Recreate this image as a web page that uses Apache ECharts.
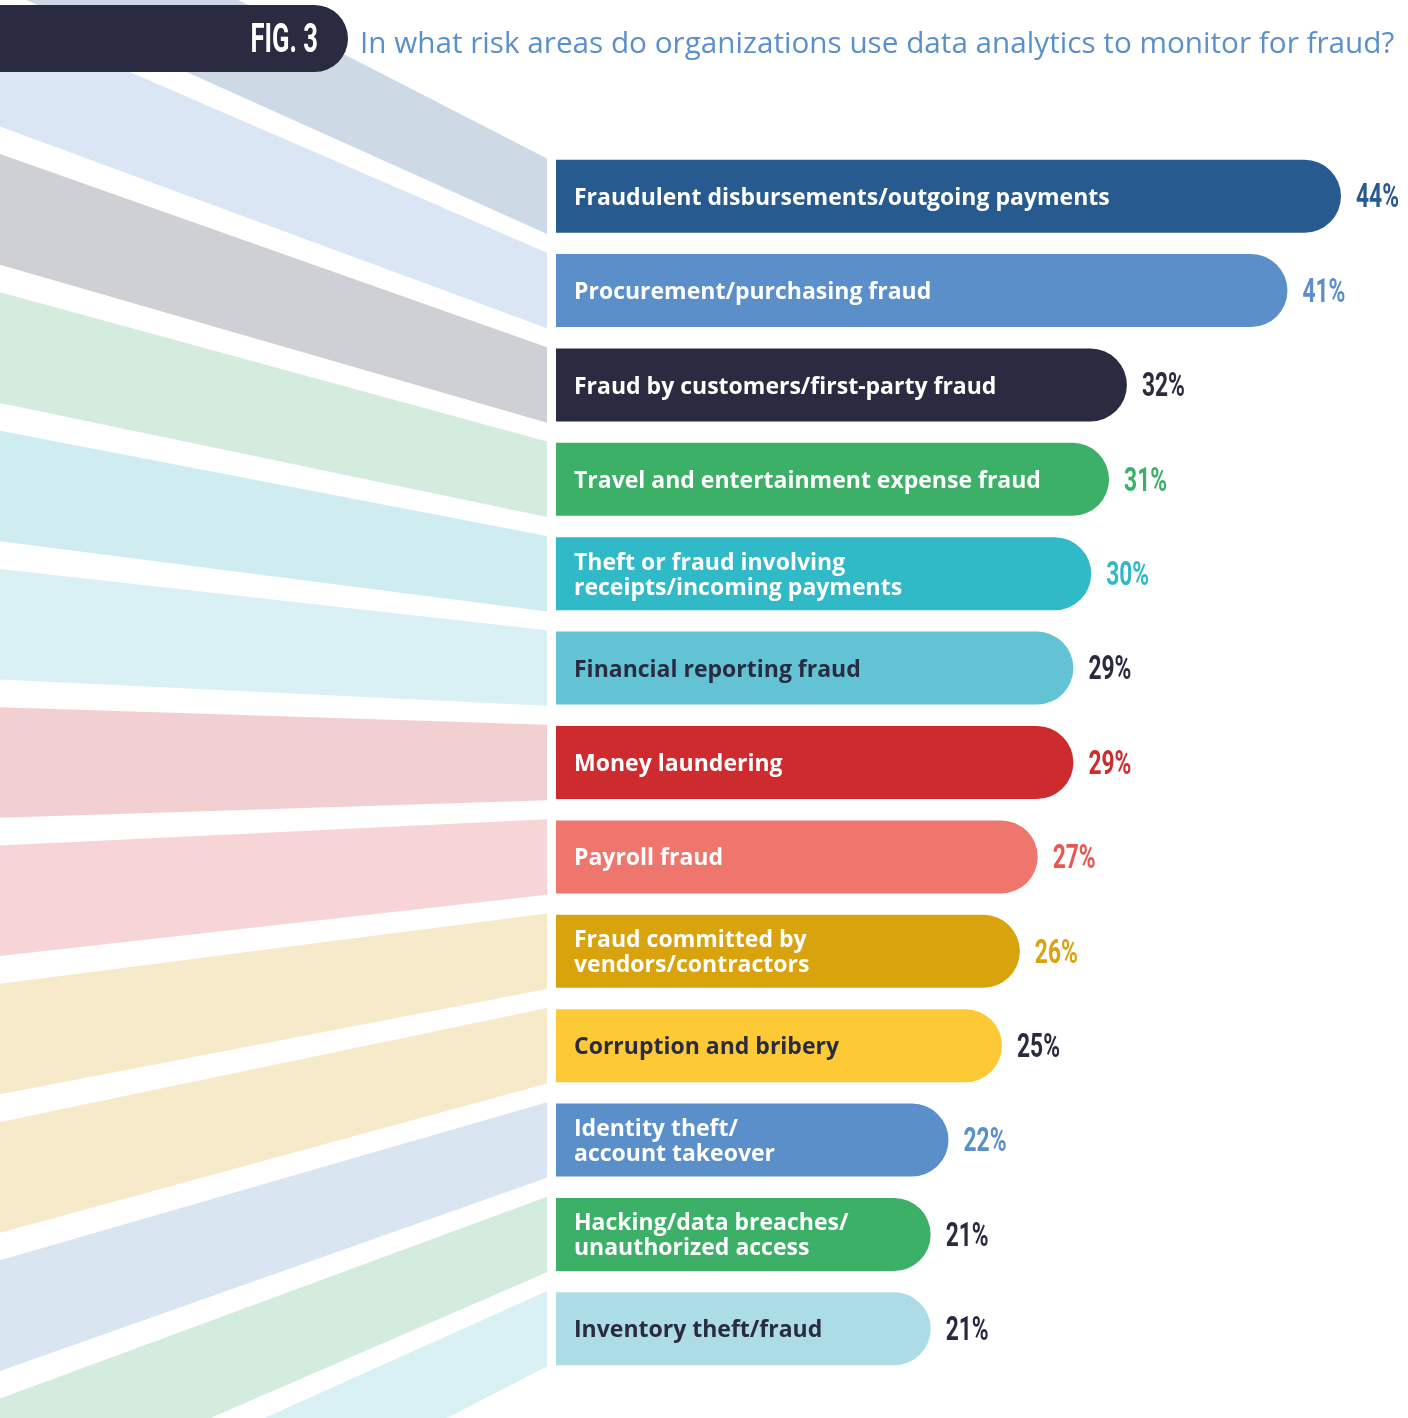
<!DOCTYPE html>
<html>
<head>
<meta charset="utf-8">
<script src="https://cdn.jsdelivr.net/npm/echarts@6/dist/echarts.min.js"></script>
<style>
  html, body { margin: 0; padding: 0; background: #ffffff; }
  #chart { width: 1408px; height: 1418px; }
</style>
</head>
<body>
<div id="chart"></div>
<script>
// Risk areas monitored with data analytics (share of organizations, %)
const categories = [
  'Fraudulent disbursements/outgoing payments',
  'Procurement/purchasing fraud',
  'Fraud by customers/first-party fraud',
  'Travel and entertainment expense fraud',
  'Theft or fraud involving\nreceipts/incoming payments',
  'Financial reporting fraud',
  'Money laundering',
  'Payroll fraud',
  'Fraud committed by\nvendors/contractors',
  'Corruption and bribery',
  'Identity theft/\naccount takeover',
  'Hacking/data breaches/\nunauthorized access',
  'Inventory theft/fraud'
];
const values = [44, 41, 32, 31, 30, 29, 29, 27, 26, 25, 22, 21, 21];

// Palette
const NAVY = '#2a2a40';
const barColors = ['#275a8e', '#5a8fca', NAVY, '#3db068', '#30b9c6', '#62c3d5',
  '#cd2b2e', '#ee766c', '#d9a30e', '#fdc934', '#5a8fca', '#3db068', '#acdce6'];
const bandColors = ['#cdd9e5', '#dae6f3', '#cfcfd6', '#d4ecdd', '#cfedf0', '#d9f0f4',
  '#f2d0d1', '#f7d5d6', '#f6eacb', '#f6eacb', '#dae5f2', '#d4ecdd', '#d9f0f4'];
const nameColors = ['#fff', '#fff', '#fff', '#fff', '#fff', NAVY,
  '#fff', '#fff', '#fff', NAVY, '#fff', '#fff', NAVY];
const pctColors = ['#275a8e', '#5a8fca', NAVY, '#3db068', '#30b9c6', NAVY,
  '#cd2b2e', '#e9574f', '#d9a30e', NAVY, '#5a8fca', NAVY, NAVY];

const NAME_FONT = '"Open Sans", "Noto Sans", sans-serif';
const NUM_FONT = 'Roboto, "Noto Sans", sans-serif';

const chart = echarts.init(document.getElementById('chart'), null, { renderer: 'canvas' });

// Fanned ribbons behind the bars: each one is anchored on its bar and
// spreads out towards the left edge around the middle row.
const FAN = 1.465;
const MID = Math.floor(categories.length / 2);
function renderBand(params, api) {
  const i = api.value(1);
  const p = api.coord([0, i]);
  const mid = api.coord([0, MID]);
  const half = api.size([0, 1])[1] * 0.4;
  const xr = p[0] - 9;
  const cl = mid[1] + (p[1] - mid[1]) * FAN;
  const hl = half * FAN;
  return {
    type: 'polygon',
    shape: { points: [[0, cl - hl], [xr, p[1] - half], [xr, p[1] + half], [0, cl + hl]] },
    style: { fill: bandColors[i] }
  };
}

// Percentage next to the end of each bar, in a narrow tall face.
function renderPct(params, api) {
  const v = api.value(0);
  const i = api.value(1);
  const p = api.coord([v, i]);
  return {
    type: 'text',
    x: p[0] + 15,
    y: p[1] + 3,
    scaleX: 0.69,
    style: {
      text: v + '%',
      fill: pctColors[i],
      font: 'bold 33px ' + NUM_FONT,
      textAlign: 'left',
      textVerticalAlign: 'middle'
    }
  };
}

const option = {
  animation: false,
  grid: { left: 556, width: 785, top: 149, bottom: 42, containLabel: false },
  xAxis: { type: 'value', min: 0, max: 44, show: false },
  yAxis: { type: 'category', data: categories, inverse: true, show: false },
  graphic: [
    {
      type: 'rect', z: 100,
      shape: { x: -40, y: 5, width: 388, height: 67, r: [0, 33.5, 33.5, 0] },
      style: { fill: NAVY }
    },
    {
      type: 'text', z: 101,
      x: 318, y: 42, scaleX: 0.64,
      style: { text: 'FIG. 3', fill: '#ffffff', font: 'bold 40px ' + NUM_FONT,
               textAlign: 'right', textVerticalAlign: 'middle' }
    },
    {
      type: 'text', z: 101,
      x: 360, y: 45,
      style: { text: 'In what risk areas do organizations use data analytics to monitor for fraud?',
               fill: '#5b8fcc', font: '29.7px "Open Sans", "Noto Sans", sans-serif',
               textAlign: 'left', textVerticalAlign: 'middle' }
    }
  ],
  series: [
    {
      type: 'custom',
      renderItem: renderBand,
      data: categories.map((c, i) => [0, i]),
      encode: { x: 0, y: 1 },
      clip: false,
      silent: true,
      z: 1
    },
    {
      type: 'bar',
      barWidth: 73,
      z: 2,
      data: values.map((v, i) => ({
        value: v,
        itemStyle: { color: barColors[i], borderRadius: [0, 36.5, 36.5, 0] },
        label: { color: nameColors[i] }
      })),
      label: {
        show: true,
        position: 'insideLeft',
        distance: 18,
        offset: [0, 2],
        formatter: p => p.name,
        fontFamily: NAME_FONT,
        fontWeight: 'bold',
        fontSize: 23,
        lineHeight: 25
      }
    },
    {
      type: 'custom',
      renderItem: renderPct,
      data: values.map((v, i) => [v, i]),
      encode: { x: 0, y: 1 },
      clip: false,
      silent: true,
      z: 3
    }
  ]
};

chart.setOption(option);
</script>
</body>
</html>
